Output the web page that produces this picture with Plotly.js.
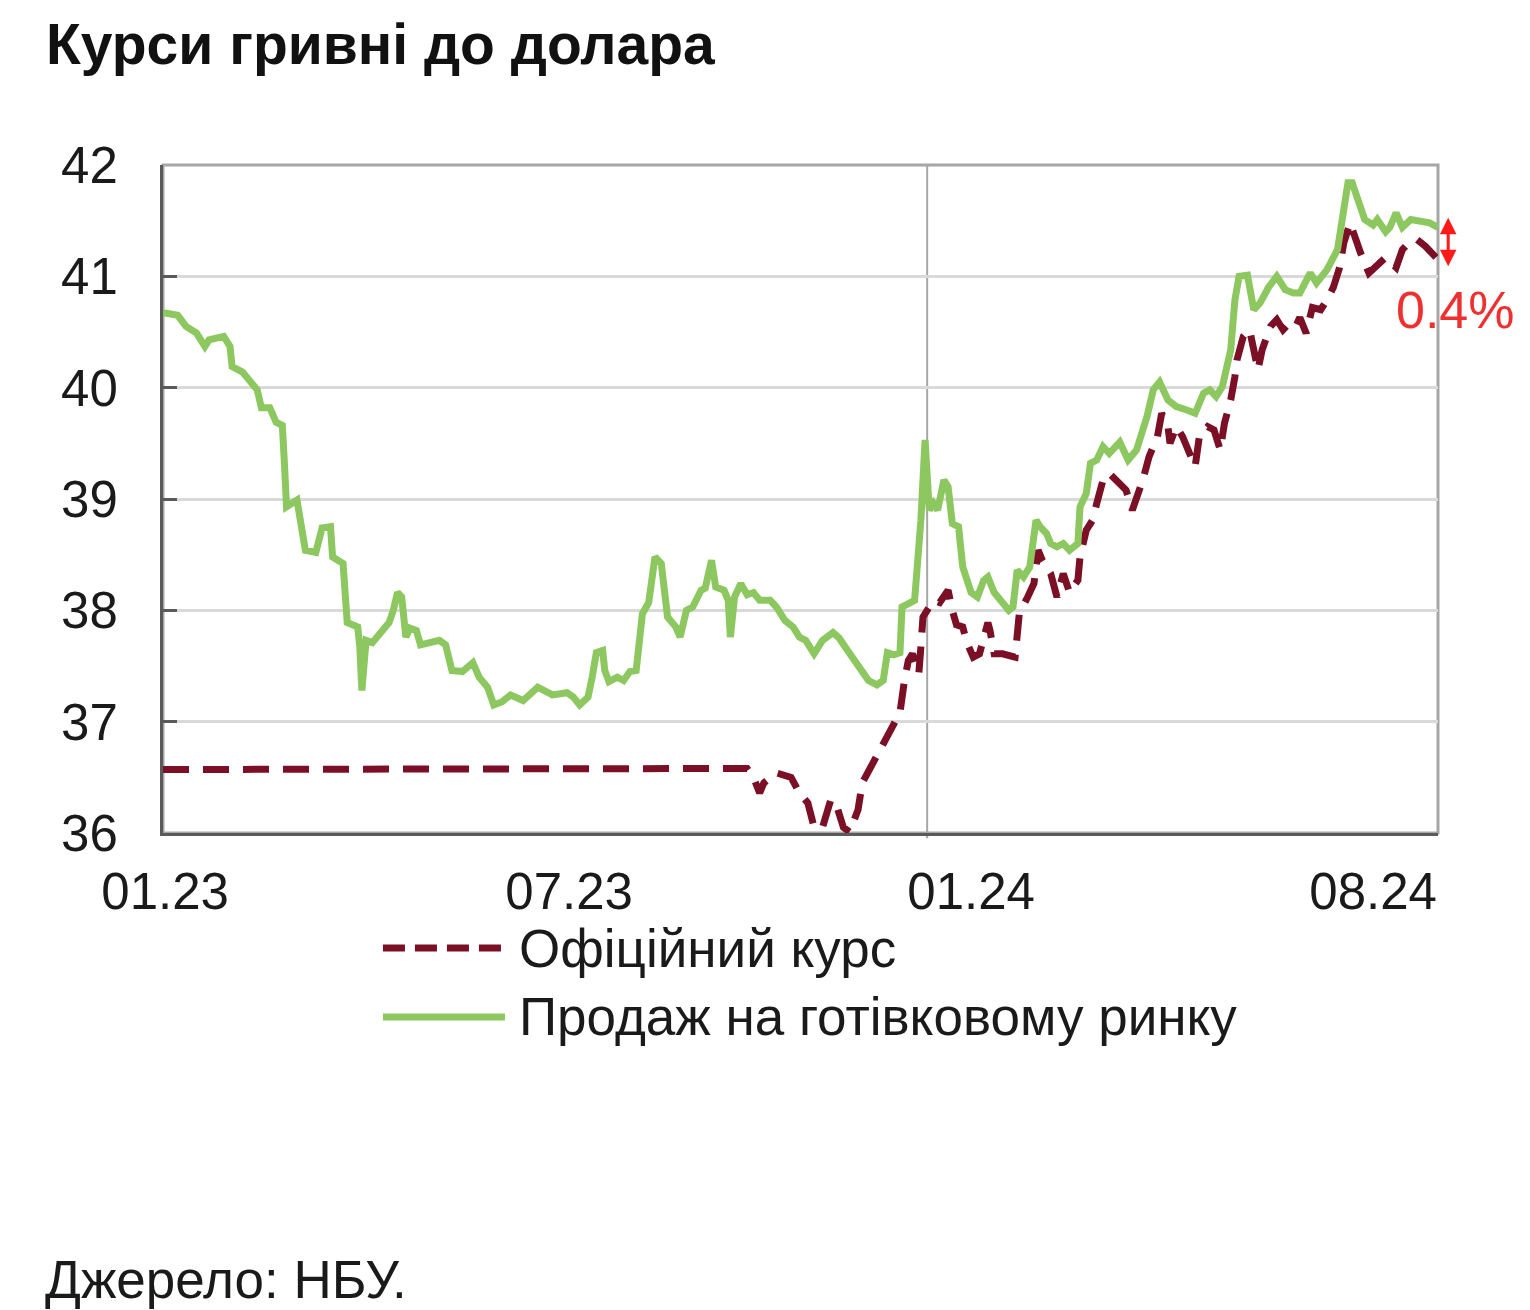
<!DOCTYPE html>
<html>
<head>
<meta charset="utf-8">
<script src="https://cdn.plot.ly/plotly-3.0.1.min.js"></script>
<style>html,body{margin:0;padding:0;background:#fff;}#chart{width:1530px;height:1310px;}</style>
</head>
<body>
<div id="chart"></div>
<script>
// Days counted from 01.01.2023
const cashDays = [0,1,7,11,16,20,22,29,32,33,38,42,45,47,51,54,57,58,59,64,66,68,73,76,80,81,86,87,88,93,94,95,97,100,104,105,108,110,112,114,116,118,121,123,128,132,135,138,143,148,151,155,158,162,166,172,179,182,186,193,196,199,203,205,207,210,211,213,217,220,223,226,229,232,235,238,241,245,247,250,253,257,259,262,264,268,270,271,273,276,279,282,285,290,293,297,301,304,307,311,315,320,323,327,333,337,341,344,346,349,352,353,357,359,362,364,366,368,370,373,375,377,380,382,386,389,392,394,397,400,404,406,408,411,414,417,419,422,424,427,430,433,437,438,441,443,446,449,452,457,461,465,470,473,476,480,484,489,493,497,500,503,506,510,512,514,518,521,524,528,532,536,540,543,548,551,556,561,564,566,568,572,574,578,580,584,586,589,592,596,600,605,609];
const cashRate = [40.67,40.67,40.65,40.55,40.49,40.37,40.43,40.46,40.37,40.19,40.14,40.04,39.98,39.82,39.82,39.69,39.66,39.32,38.93,38.99,38.78,38.54,38.52,38.74,38.75,38.48,38.42,38.12,37.89,37.85,37.67,37.28,37.73,37.71,37.80,37.82,37.89,38.00,38.16,38.12,37.76,37.84,37.82,37.69,37.71,37.73,37.69,37.46,37.45,37.53,37.40,37.31,37.15,37.18,37.24,37.19,37.31,37.28,37.24,37.26,37.22,37.15,37.22,37.40,37.62,37.64,37.46,37.36,37.40,37.37,37.45,37.46,37.97,38.07,38.48,38.42,37.94,37.85,37.76,38.00,38.03,38.18,38.20,38.45,38.21,38.18,38.09,37.76,38.12,38.24,38.14,38.16,38.09,38.09,38.03,37.91,37.85,37.76,37.73,37.61,37.73,37.80,37.75,37.64,37.49,37.37,37.33,37.37,37.62,37.60,37.62,38.03,38.07,38.09,38.81,39.53,38.90,38.96,38.90,39.17,39.11,38.78,38.75,38.39,38.16,38.12,38.27,38.30,38.16,38.09,38.00,38.03,38.36,38.30,38.39,38.81,38.75,38.69,38.60,38.57,38.60,38.54,38.60,38.93,39.05,39.32,39.35,39.47,39.41,39.51,39.35,39.44,39.74,39.98,40.05,39.89,39.83,39.80,39.77,39.95,39.98,39.92,40.01,40.34,40.79,41.00,41.01,40.70,40.76,40.90,41.00,40.88,40.85,40.85,41.03,40.94,41.06,41.24,41.62,41.84,41.84,41.60,41.51,41.46,41.51,41.40,41.44,41.57,41.44,41.51,41.49,41.48,41.44];

const officialDays = [0,278,279,282,285,287,293,300,304,308,311,315,319,322,325,328,332,334,338,342,346,350,352,354,356,358,361,362,363,365,368,371,375,377,379,382,384,387,390,394,395,397,401,407,408,409,413,416,418,420,424,427,430,433,437,438,441,444,446,449,452,455,458,460,463,468,471,475,477,480,481,484,487,491,493,495,499,502,505,507,510,512,513,516,519,521,523,525,529,532,535,538,541,543,546,549,553,556,559,562,564,567,570,572,576,579,584,589,592,595,599,603,608];
const officialRate = [36.57,36.57,36.58,36.50,36.36,36.45,36.54,36.50,36.36,36.27,36.05,36.05,36.30,36.23,36.05,36.01,36.21,36.45,36.59,36.75,36.90,37.04,37.08,37.35,37.55,37.61,37.43,37.67,37.94,38.00,38.09,38.07,38.18,38.00,37.87,37.85,37.71,37.58,37.61,37.89,37.82,37.61,37.61,37.58,37.73,37.97,38.12,38.24,38.54,38.45,38.33,38.12,38.33,38.16,38.27,38.48,38.72,38.81,38.96,39.17,39.23,39.17,39.11,39.08,38.90,39.17,39.38,39.56,39.77,39.65,39.50,39.65,39.56,39.38,39.29,39.56,39.65,39.62,39.44,39.68,39.89,40.10,40.25,40.46,40.52,40.34,40.16,40.34,40.55,40.61,40.52,40.58,40.55,40.63,40.49,40.72,40.70,40.79,40.90,41.08,41.30,41.48,41.30,41.21,41.03,41.08,41.17,41.08,41.24,41.30,41.33,41.27,41.17];

const tickDays = [1, 194, 386, 578];
const tickLabels = ['01.23', '07.23', '01.24', '08.24'];
const yTicks = [36, 37, 38, 39, 40, 41, 42];

const seriesNames = ['Офіційний курс', 'Продаж на готівковому ринку'];
const titleText = 'Курси гривні до долара';
const sourceText = 'Джерело: НБУ.';
const spreadText = '0.4%';

const base = Date.UTC(2023, 0, 1);
function dayToDate(d) {
  return new Date(base + d * 86400000).toISOString().slice(0, 10);
}

const RED = '#7a0f26';
const GREEN = '#8dc760';
const FONT = 'Liberation Sans, Arial, sans-serif';

const traces = [
  {
    x: officialDays.map(dayToDate), y: officialRate, type: 'scatter', mode: 'lines',
    name: seriesNames[0], line: {color: RED, width: 7, dash: '26px,14px'}
  },
  {
    x: cashDays.map(dayToDate), y: cashRate, type: 'scatter', mode: 'lines',
    name: seriesNames[1], line: {color: GREEN, width: 7}
  }
];

const layout = {
  width: 1530, height: 1310,
  margin: {l: 163, r: 92, t: 165, b: 477},
  paper_bgcolor: '#ffffff', plot_bgcolor: '#ffffff',
  showlegend: false,
  font: {family: FONT, color: '#1a1a1a', size: 51},
  title: {
    text: '<b>' + titleText + '</b>',
    x: 46 / 1530, xanchor: 'left', xref: 'container',
    y: 1 - 44 / 1310, yanchor: 'middle', yref: 'container',
    font: {family: FONT, size: 57, color: '#111'}
  },
  xaxis: {
    type: 'date',
    range: [dayToDate(0), dayToDate(609)],
    tickvals: tickDays.map(dayToDate), ticktext: tickLabels,
    ticks: '', showgrid: false, zeroline: false,
    showline: true, linecolor: '#5a5a5a', linewidth: 3,
    tickfont: {family: FONT, size: 51, color: '#1a1a1a'},
    ticklabelstandoff: 12
  },
  yaxis: {
    range: [36, 42], tickvals: yTicks,
    ticks: 'inside', ticklen: 14, tickwidth: 3, tickcolor: '#5a5a5a',
    showline: true, linecolor: '#5a5a5a', linewidth: 3,
    showgrid: true, gridcolor: '#d9d9d9', gridwidth: 3, zeroline: false,
    tickfont: {family: FONT, size: 51, color: '#1a1a1a'},
    ticklabelstandoff: 32
  },
  shapes: [
    {type: 'rect', xref: 'paper', yref: 'paper', x0: 0, x1: 1, y0: 0, y1: 1,
     line: {color: '#a6a6a6', width: 3}, layer: 'below'},
    {type: 'line', xref: 'x', yref: 'paper', x0: dayToDate(365), x1: dayToDate(365), y0: -0.008, y1: 1,
     line: {color: '#a6a6a6', width: 2}, layer: 'below'},
    {type: 'line', xref: 'paper', yref: 'paper', x0: 0.1725, x1: 0.2682, y0: -0.1722, y1: -0.1722,
     line: {color: RED, width: 7, dash: '22px,10px'}},
    {type: 'line', xref: 'paper', yref: 'paper', x0: 0.1725, x1: 0.2682, y0: -0.2754, y1: -0.2754,
     line: {color: GREEN, width: 7}}
  ],
  annotations: [
    {xref: 'paper', yref: 'paper', x: 0.2776, y: -0.1722, xanchor: 'left', yanchor: 'middle',
     text: seriesNames[0], showarrow: false, font: {family: FONT, size: 53, color: '#1a1a1a'}},
    {xref: 'paper', yref: 'paper', x: 0.2776, y: -0.2754, xanchor: 'left', yanchor: 'middle',
     text: seriesNames[1], showarrow: false, font: {family: FONT, size: 53, color: '#1a1a1a'}},
    {xref: 'paper', yref: 'paper', x: -0.0945, y: -0.669, xanchor: 'left', yanchor: 'middle',
     text: sourceText, showarrow: false, font: {family: FONT, size: 53, color: '#1a1a1a'}},
    {xref: 'paper', yref: 'paper', x: 1.0141, y: 0.783, xanchor: 'center', yanchor: 'middle',
     text: spreadText, showarrow: false, font: {family: FONT, size: 52, color: '#ee3030'}},
    {xref: 'paper', yref: 'y', x: 1.008, y: officialRate[officialRate.length - 1] - 0.08,
     ax: 0, ay: -50, axref: 'pixel', ayref: 'pixel', text: '', showarrow: true,
     arrowhead: 2, startarrowhead: 2, arrowside: 'end+start', arrowsize: 1.1, startarrowsize: 1.1,
     arrowwidth: 3, arrowcolor: '#ff1a1a', standoff: 0, startstandoff: 0}
  ]
};

Plotly.newPlot('chart', traces, layout, {staticPlot: true, displayModeBar: false});
</script>
</body>
</html>
